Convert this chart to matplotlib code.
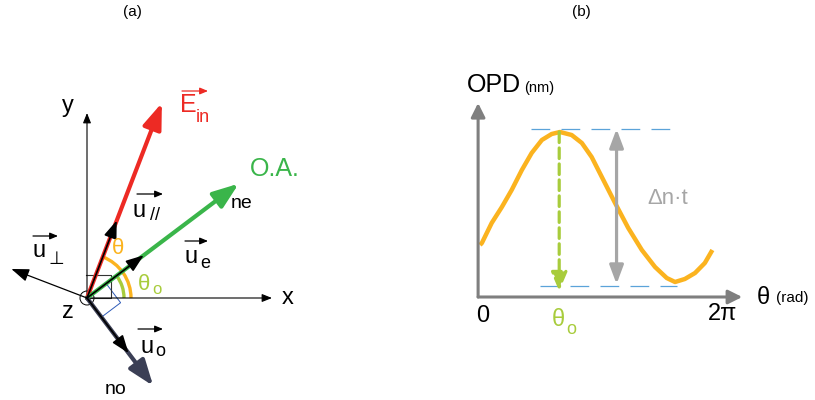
import numpy as np
import matplotlib
matplotlib.use('Agg')
import matplotlib.pyplot as plt
from matplotlib.patches import Arc, Circle, Polygon

plt.rcParams['font.family'] = ['Liberation Sans', 'DejaVu Sans']

# ---- panel (a) : directions (deg) and lengths (px) of the vectors ----
ein_angle, ein_len = 69, 209        # incoming field E_in
oa_angle, oa_len = 37, 190          # optic axis (ne)
no_angle, no_len = -53, 110         # ordinary axis (no)
uperp_angle, uperp_len = 159, 81
upar_len, ue_len, uo_len = 83, 71, 69
axis_len = 185

# ---- panel (b) : OPD curve ----
theta_pts = [0.0, 0.05, 0.31, 0.58, 0.84, 1.11, 1.37, 1.64, 1.90, 2.12, 2.43,
             2.70, 2.96, 3.27, 3.58, 3.93, 4.29, 4.64, 4.95, 5.17, 5.43,
             5.70, 5.96, 6.16]
opd_pts = [52, 54, 74, 90, 107, 127, 144, 157, 163, 165, 162,
           154, 140, 117, 94, 69, 47, 30, 19, 15, 18,
           24, 34, 47]
theta_o = 2.1
opd_max, opd_min = 168, 11
theta_dn = 3.62

RED = '#ED2A24'
GREEN = '#3AB54A'
NAVY = '#3B3F55'
ORANGE = '#FBB31F'
LIME = '#A8CC3C'
GRAY = '#7F7F7F'
LGRAY = '#A6A6A6'
BLUE = '#5BA3D9'


def tip(angle, length):
    a = np.deg2rad(angle)
    return (length * np.cos(a), length * np.sin(a))


def arrow(ax, start, end, color, lw, ms, hl=0.4, hw=0.2, style='-|>', **kw):
    ax.annotate('', xy=end, xytext=start,
                arrowprops=dict(arrowstyle='%s,head_length=%s,head_width=%s' % (style, hl, hw),
                                color=color, lw=lw, mutation_scale=ms,
                                shrinkA=0, shrinkB=0, **kw))


fig = plt.figure(figsize=(8.15, 4), dpi=100)

# panel (a) in pixel-like units, origin at the z point
axa = fig.add_axes([0, 0, 440 / 815, 1])
axa.set_xlim(-87, 353)
axa.set_ylim(-102, 298)
axa.axis('off')

# x, y axes
arrow(axa, (0, 0), (axis_len, 0), 'black', 0.8, 12, hl=0.5, hw=0.2)
arrow(axa, (0, 0), (0, axis_len), 'black', 0.8, 12, hl=0.5, hw=0.2)
axa.text(201, 0, 'x', fontsize=17, ha='center', va='center')
axa.text(-19, 192, 'y', fontsize=17, ha='center', va='center')
axa.text(-19, -14, 'z', fontsize=17, ha='center', va='center')

# right-angle marks
axa.plot([-1, 24, 24, -1], [23, 23, 0, 0], color='#333333', lw=0.8)
e1 = np.array(tip(oa_angle, 24))
e2 = np.array(tip(no_angle, 24))
axa.add_patch(Polygon([(0, 0), e1, e1 + e2, e2], closed=True, fill=False,
                      ec='#2E5BB8', lw=0.7))

# thick vectors
arrow(axa, (0, 0), tip(ein_angle, ein_len), RED, 3, 26, hl=0.6, hw=0.22)
arrow(axa, (0, 0), tip(oa_angle, oa_len), GREEN, 3, 26, hl=0.6, hw=0.22)
arrow(axa, (0, 0), tip(no_angle, no_len), NAVY, 3, 26, hl=0.6, hw=0.22)

# unit vectors
arrow(axa, (0, 0), tip(uperp_angle, uperp_len), 'black', 0.9, 18, hl=0.6, hw=0.22)
arrow(axa, (0, 0), tip(ein_angle, upar_len), 'black', 1.2, 18, hl=0.6, hw=0.22)
arrow(axa, (0, 0), tip(oa_angle, ue_len), 'black', 1.2, 18, hl=0.6, hw=0.22)
arrow(axa, (0, 0), tip(no_angle, uo_len), 'black', 1.2, 18, hl=0.6, hw=0.22)

# angles
axa.add_patch(Arc((0, 0), 88, 88, theta1=0, theta2=ein_angle, color=ORANGE, lw=2.4))
axa.add_patch(Arc((0, 0), 74, 74, theta1=0, theta2=oa_angle, color=LIME, lw=2.4))
axa.add_patch(Circle((0, 0), 7, fill=False, ec='black', lw=0.7))
axa.plot(0, 0, 'o', color='black', ms=2)

axa.text(31, 49, 'θ', color=ORANGE, fontsize=16, ha='center', va='center')
axa.text(57, 13, 'θ', color=LIME, fontsize=16, ha='center', va='center')
axa.text(70, 8, 'o', color=LIME, fontsize=12, ha='center', va='center')

# labels of the thick vectors
axa.text(93, 193, 'E', color=RED, fontsize=18, ha='left', va='center')
axa.text(109, 181, 'in', color=RED, fontsize=13, ha='left', va='center')
arrow(axa, (95, 207), (121, 207), RED, 0.9, 8, hl=0.6, hw=0.25)
axa.text(163, 129, 'O.A.', color=GREEN, fontsize=18, ha='left', va='center')
axa.text(155, 94, 'ne', fontsize=14, ha='center', va='center')
axa.text(29, -91, 'no', fontsize=14, ha='center', va='center')

# labels of the unit vectors: (letter pos, subscript, sub pos, arrow span)
ulabels = [((46, 87), '//', (63, 83), (50, 76, 104)),
           ((-54, 47), '⊥', (-39, 38), (-54, -29, 62)),
           ((98, 41), 'e', (113, 34), (98, 121, 57)),
           ((53, -49), 'o', (68, -53), (51, 76, -31))]
for upos, sub, spos, (x0, x1, ya) in ulabels:
    axa.text(upos[0], upos[1], 'u', fontsize=17, ha='left', va='center')
    axa.text(spos[0], spos[1], sub, fontsize=13, ha='left', va='center')
    arrow(axa, (x0, ya), (x1, ya), 'black', 0.9, 8, hl=0.6, hw=0.25)

# panel (b): OPD vs theta
axb = fig.add_axes([440 / 815, 50 / 400, 375 / 815, 290 / 400])
axb.set_xlim(-1.06, 8.88)
axb.set_ylim(-53, 237)
axb.axis('off')

arrow(axb, (-0.05, 0), (6.95, 0), GRAY, 2.2, 14, hl=0.6, hw=0.3)
arrow(axb, (-0.05, 0), (-0.05, 194), GRAY, 2.2, 14, hl=0.6, hw=0.3)

axb.plot([theta_o - 0.74, theta_o + 2.94], [opd_max, opd_max], color=BLUE,
         lw=0.9, dashes=(15, 9))
axb.plot([theta_o - 0.51, theta_o + 3.12], [opd_min, opd_min], color=BLUE,
         lw=0.9, dashes=(15, 9))

axb.plot(theta_pts, opd_pts, color=ORANGE, lw=3.2, solid_capstyle='butt',
         solid_joinstyle='round')

arrow(axb, (theta_o, opd_max - 3), (theta_o, opd_min - 5), LIME, 2.3, 16,
      hl=0.7, hw=0.3, linestyle=(0, (3.3, 1.7)))
arrow(axb, (theta_dn, (opd_max + opd_min) / 2), (theta_dn, opd_max), LGRAY, 2.3, 14, hl=0.8, hw=0.3)
arrow(axb, (theta_dn, (opd_max + opd_min) / 2), (theta_dn, opd_min + 2), LGRAY, 2.3, 14, hl=0.8, hw=0.3)
axb.text(4.45, 99, 'Δn·t', color=LGRAY, fontsize=16, ha='left', va='center')

axb.text(-0.345, 212, 'OPD', fontsize=18, ha='left', va='center')
axb.text(1.17, 209, '(nm)', fontsize=10.5, ha='left', va='center')
axb.text(7.34, -1, 'θ', fontsize=17, ha='left', va='center')
axb.text(7.85, -1, '(rad)', fontsize=11, ha='left', va='center')
axb.text(0.08, -19, '0', fontsize=17, ha='center', va='center')
axb.text(6.42, -17, '2π', fontsize=17, ha='center', va='center')
axb.text(2.07, -23, 'θ', color=LIME, fontsize=17, ha='center', va='center')
axb.text(2.41, -32, 'o', color=LIME, fontsize=13, ha='center', va='center')

fig.text(132 / 815, 1 - 12 / 400, '(a)', fontsize=11, ha='center', va='center')
fig.text(581 / 815, 1 - 12 / 400, '(b)', fontsize=11, ha='center', va='center')

fig.savefig('out.png', dpi=100)
